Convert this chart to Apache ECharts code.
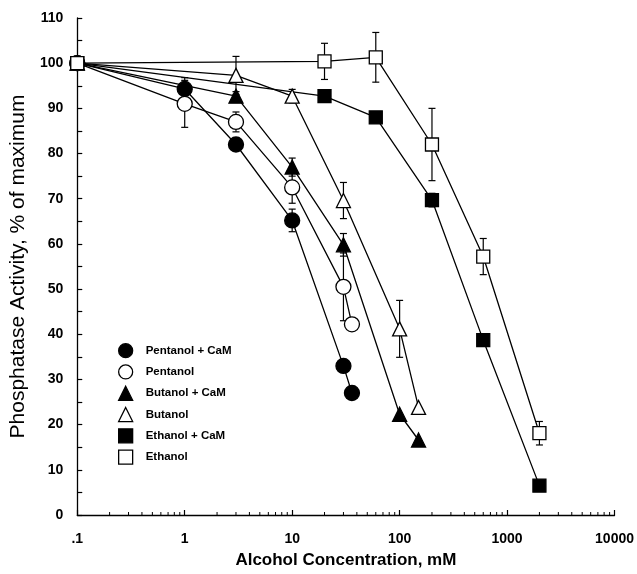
<!DOCTYPE html>
<html>
<head>
<meta charset="utf-8">
<script src="https://cdn.jsdelivr.net/npm/echarts@6/dist/echarts.min.js"></script>
<style>
html,body{margin:0;padding:0;background:#fff;}
#chart{width:637px;height:574px;}
</style>
</head>
<body>
<div id="chart"></div>
<script>
// ---- Data ----
var seriesNames = ['Pentanol + CaM', 'Pentanol', 'Butanol + CaM', 'Butanol', 'Ethanol + CaM', 'Ethanol'];

var concPentCaM = [0.1, 1, 3, 10, 30, 36];
var actPentCaM  = [100, 94.3, 82, 65.2, 33, 27];
var errPentCaM  = [0, 2.5, 0, 2.5, 0, 0];

var concPent = [0.1, 1, 3, 10, 30, 36];
var actPent  = [100, 91, 87, 72.5, 50.5, 42.2];
var errPent  = [0, 5.2, 2.2, 3.5, 7.5, 0];

var concButCaM = [0.1, 3, 10, 30, 100, 150];
var actButCaM  = [100, 92.7, 77, 59.8, 22.3, 16.6];
var errButCaM  = [0, 1, 2, 2.5, 0, 0];

var concBut = [0.1, 3, 10, 30, 100, 150];
var actBut  = [100, 97.3, 92.7, 69.6, 41.2, 23.8];
var errBut  = [0, 4.2, 1.5, 4, 6.3, 0];

var concEthCaM = [0.1, 20, 60, 200, 600, 2000];
var actEthCaM  = [100, 92.7, 88, 69.7, 38.7, 6.5];
var errEthCaM  = [0, 1, 0, 1.5, 0, 0];

var concEth = [0.1, 20, 60, 200, 600, 2000];
var actEth  = [100, 100.4, 101.3, 82, 57.2, 18.1];
var errEth  = [0, 4, 5.5, 8, 4, 2.6];

var xMinorTicks = [0.2,0.3,0.4,0.5,0.6,0.7,0.8,0.9, 2,3,4,5,6,7,8,9, 20,30,40,50,60,70,80,90,
                   200,300,400,500,600,700,800,900, 2000,3000,4000,5000,6000,7000,8000,9000];

// ---- Build options ----
var FONT = '"Liberation Sans", Arial, Helvetica, sans-serif';
var groups = [
  {name: seriesNames[0], x: concPentCaM, y: actPentCaM, e: errPentCaM, symbol: 'circle',   size: 15, fill: '#000'},
  {name: seriesNames[1], x: concPent,    y: actPent,    e: errPent,    symbol: 'circle',   size: 15, fill: '#fff'},
  {name: seriesNames[2], x: concButCaM,  y: actButCaM,  e: errButCaM,  symbol: 'triangle', size: 14, fill: '#000'},
  {name: seriesNames[3], x: concBut,     y: actBut,     e: errBut,     symbol: 'triangle', size: 14, fill: '#fff'},
  {name: seriesNames[4], x: concEthCaM,  y: actEthCaM,  e: errEthCaM,  symbol: 'rect',     size: 13, fill: '#000'},
  {name: seriesNames[5], x: concEth,     y: actEth,     e: errEth,     symbol: 'rect',     size: 13, fill: '#fff'}
];

function zip(xs, ys, es) {
  return xs.map(function (v, i) { return es ? [v, ys[i], es[i]] : [v, ys[i]]; });
}

var series = [];
groups.forEach(function (g) {
  // error bars
  series.push({
    type: 'custom',
    name: g.name + ' err',
    z: 2,
    silent: true,
    encode: {x: 0, y: 1},
    data: zip(g.x, g.y, g.e),
    renderItem: function (params, api) {
      var x = api.value(0), y = api.value(1), e = api.value(2);
      if (!e) return null;
      var top = api.coord([x, y + e]);
      var bot = api.coord([x, y - e]);
      var hw = 3.5;
      var st = {stroke: '#000', lineWidth: 1.2};
      return {
        type: 'group',
        children: [
          {type: 'line', shape: {x1: top[0], y1: top[1], x2: bot[0], y2: bot[1]}, style: st},
          {type: 'line', shape: {x1: top[0] - hw, y1: top[1], x2: top[0] + hw, y2: top[1]}, style: st},
          {type: 'line', shape: {x1: bot[0] - hw, y1: bot[1], x2: bot[0] + hw, y2: bot[1]}, style: st}
        ]
      };
    }
  });
  series.push({
    type: 'line',
    name: g.name,
    z: 3,
    data: zip(g.x, g.y),
    symbol: g.symbol,
    symbolSize: g.size,
    showAllSymbol: true,
    lineStyle: {color: '#000', width: 1.3},
    itemStyle: {color: g.fill, borderColor: '#000', borderWidth: 1.3},
    emphasis: {disabled: true},
    animation: false
  });
});

// minor ticks on the log x axis
series.push({
  type: 'custom',
  name: 'minor',
  silent: true,
  z: 1,
  encode: {x: 0, y: 1},
  data: xMinorTicks.map(function (v) { return [v, 0]; }),
  renderItem: function (params, api) {
    var p = api.coord([api.value(0), 0]);
    return {type: 'line', shape: {x1: p[0], y1: p[1], x2: p[0], y2: p[1] - 3}, style: {stroke: '#000', lineWidth: 1}};
  }
});

var option = {
  animation: false,
  backgroundColor: '#fff',
  grid: {left: 76, right: 19, top: 18, bottom: 55, containLabel: false},
  xAxis: {
    type: 'log',
    logBase: 10,
    min: 0.1,
    max: 10000,
    name: 'Alcohol Concentration, mM',
    nameLocation: 'middle',
    nameGap: 37,
    nameTextStyle: {fontFamily: FONT, fontWeight: 'bold', fontSize: 17, color: '#000'},
    axisLine: {show: true, lineStyle: {color: '#000', width: 1.3}},
    axisTick: {show: true, inside: true, length: 5, lineStyle: {color: '#000', width: 1.2}},
    minorTick: {show: false},
    splitLine: {show: false},
    axisLabel: {
      fontFamily: FONT, fontWeight: 'bold', fontSize: 14, color: '#000', margin: 17,
      formatter: function (v) { return v < 0.5 ? '.1' : String(Math.round(v)); }
    }
  },
  yAxis: {
    type: 'value',
    min: 0,
    max: 110,
    interval: 10,
    name: 'Phosphatase Activity, % of maximum',
    nameLocation: 'middle',
    nameGap: 44,
    nameTextStyle: {fontFamily: FONT, fontWeight: 'normal', fontSize: 21, color: '#000'},
    axisLine: {show: true, lineStyle: {color: '#000', width: 1.3}},
    axisTick: {show: true, inside: true, length: 5, lineStyle: {color: '#000', width: 1.2}},
    minorTick: {show: true, splitNumber: 2, length: 5, lineStyle: {color: '#000', width: 1.2}},
    splitLine: {show: false},
    axisLabel: {fontFamily: FONT, fontWeight: 'bold', fontSize: 14, color: '#000', margin: 14}
  },
  legend: {
    orient: 'vertical',
    left: 113,
    top: 338,
    itemGap: 6,
    itemWidth: 14,
    itemHeight: 14,
    textStyle: {fontFamily: FONT, fontWeight: 'bold', fontSize: 11.5, color: '#000', padding: [0, 0, 0, 8]},
    data: groups.map(function (g) {
      return {name: g.name, icon: g.symbol,
        itemStyle: {color: g.fill, borderColor: '#000', borderWidth: 1.3}};
    }),
    lineStyle: {opacity: 0, width: 0},
    selectedMode: false
  },
  series: series
};

var chart = echarts.init(document.getElementById('chart'), null, {renderer: 'canvas'});
chart.setOption(option);
</script>
</body>
</html>
